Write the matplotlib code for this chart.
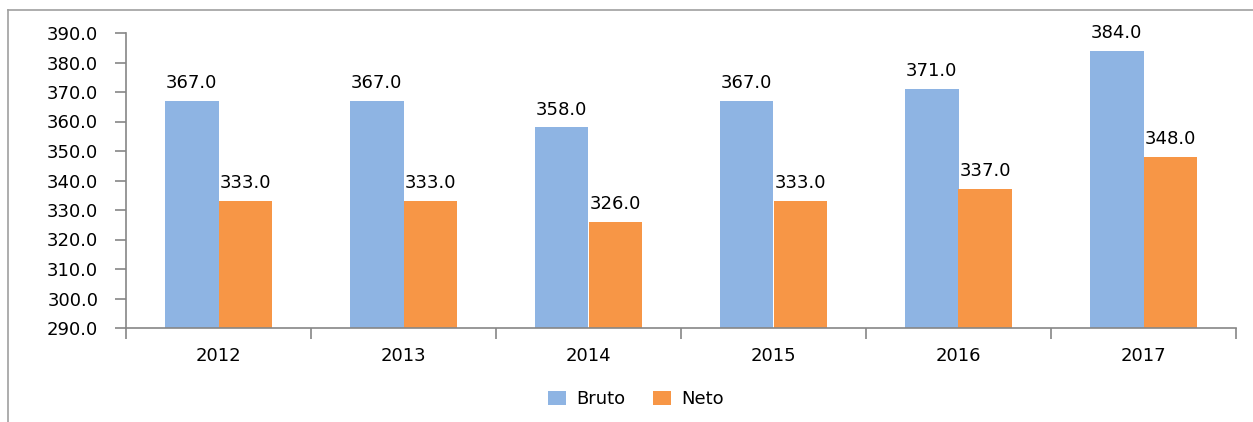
import matplotlib
matplotlib.use("Agg")
import matplotlib.pyplot as plt
import numpy as np
from matplotlib.lines import Line2D

years = ["2012", "2013", "2014", "2015", "2016", "2017"]
bruto = [367.0, 367.0, 358.0, 367.0, 371.0, 384.0]
neto = [333.0, 333.0, 326.0, 333.0, 337.0, 348.0]
yticks = [290, 300, 310, 320, 330, 340, 350, 360, 370, 380, 390]

BLUE = "#8EB4E3"
ORANGE = "#F79646"
AX = "#868686"

W, H = 1253, 422
fig = plt.figure(figsize=(W / 100, H / 100), dpi=100)
plt.rcParams['font.family'] = ['DejaVu Sans']
FS = 13

ax = fig.add_axes([126 / W, 1 - 328 / H, (1236 - 126) / W, (328 - 33) / H])

x = np.arange(len(years))
bw = 0.29
b1 = ax.bar(x - bw / 2, [b - 290 for b in bruto], bw, bottom=290, color=BLUE, label="Bruto")
b2 = ax.bar(x + bw / 2, [n - 290 for n in neto], bw, bottom=290, color=ORANGE, label="Neto")

for xi, v in zip(x, bruto):
    ax.text(xi - bw / 2, v + 3.0, f"{v:.1f}", ha="center", va="bottom", fontsize=FS)
for xi, v in zip(x, neto):
    ax.text(xi + bw / 2, v + 3.0, f"{v:.1f}", ha="center", va="bottom", fontsize=FS)

ax.set_xlim(-0.5, len(years) - 0.5)
ax.set_ylim(290, 390)
ax.set_yticks(yticks)
ax.set_yticklabels([f"{t:.1f}" for t in yticks], fontsize=FS)
ax.set_xticks(x)
ax.set_xticklabels(years, fontsize=FS)
ax.set_xticks(np.arange(-0.5, len(years), 1), minor=True)
ax.tick_params(axis="x", which="major", length=0, pad=14)
ax.tick_params(axis="x", which="minor", length=8, color=AX, width=1.2)
ax.tick_params(axis="y", length=8, color=AX, width=1.2, pad=12)

for s in ["top", "right"]:
    ax.spines[s].set_visible(False)
for s in ["left", "bottom"]:
    ax.spines[s].set_color(AX)
    ax.spines[s].set_linewidth(1.2)

# outer chart frame (left & top)
fig.add_artist(Line2D([8 / W, 8 / W], [0, 1 - 10 / H], color="#A0A0A0", lw=1.2, transform=fig.transFigure))
fig.add_artist(Line2D([8 / W, 1], [1 - 10 / H, 1 - 10 / H], color="#A0A0A0", lw=1.2, transform=fig.transFigure))

fig.legend(handles=[b1, b2], labels=["Bruto", "Neto"], loc="center", bbox_to_anchor=(636 / W, 1 - 399 / H),
           ncol=2, frameon=False, fontsize=FS, handlelength=1.0, handleheight=0.8, columnspacing=1.5, handletextpad=0.6)

fig.savefig("out.png", dpi=100)
